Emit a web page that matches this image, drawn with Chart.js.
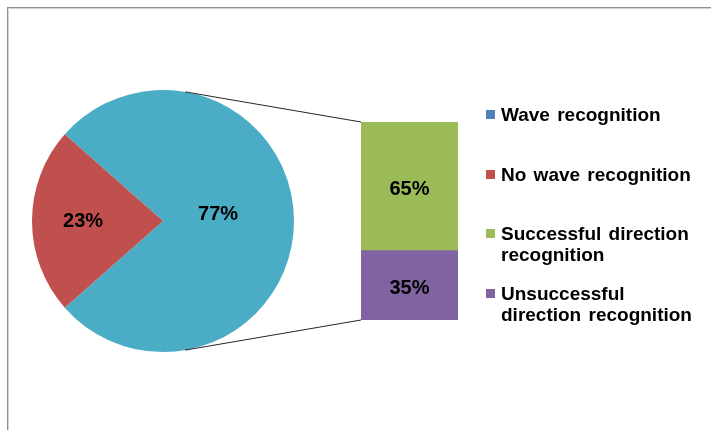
<!DOCTYPE html>
<html>
<head>
<meta charset="utf-8">
<script src="https://cdn.jsdelivr.net/npm/chart.js@4/dist/chart.umd.min.js"></script>
<style>
  html, body { margin: 0; padding: 0; background: #fff; }
  #wrap { position: relative; width: 711px; height: 430px; overflow: hidden; background: #fff; }
  #frame { position: absolute; left: 7px; top: 7px; width: 800px; height: 500px;
           border: 1px solid #8f8f8f; box-shadow: inset 1px 1px 0 #d4d4d4; }
  #pieBox { position: absolute; left: 32px; top: 90px; width: 262px; height: 262px; }
  #barBox { position: absolute; left: 0; top: 0; width: 711px; height: 430px; pointer-events: none; }
  .leg { position: absolute; left: 501px; font: bold 19px "Liberation Sans", Arial, sans-serif;
         line-height: 21px; color: #000; white-space: nowrap; word-spacing: 2px; }
  .leg span { position: absolute; left: -15px; top: 6px; width: 9px; height: 9px; }
</style>
</head>
<body>
<div id="wrap">
  <div id="frame"></div>
  <div id="pieBox"><canvas id="pie"></canvas></div>
  <div id="barBox"><canvas id="bar"></canvas></div>
  <div id="legend"></div>
</div>
<script>
// pie: recognized vs not
const pieLabels = ['Wave recognition', 'No wave recognition'];
const pieValues = [77, 23];
const pieColors = ['#4BACC6', '#C0504D'];

// bar: split of the recognized part
const barLabels = ['Unsuccessful direction recognition', 'Successful direction recognition'];
const barValues = [35, 65];
const barColors = ['#8064A2', '#9BBB59'];

// legend entries (order as in the picture)
const legendLabels = ['Wave recognition', 'No wave recognition',
  'Successful direction<br>recognition', 'Unsuccessful<br>direction recognition'];
const legendColors = ['#4F81BD', '#C0504D', '#9BBB59', '#8064A2'];
const legendTops = [104, 164, 223, 283];

const FONT = 'bold 20px "Liberation Sans", Arial, sans-serif';

const legend = document.getElementById('legend');
legendLabels.forEach((t, i) => {
  const d = document.createElement('div');
  d.className = 'leg';
  d.style.top = legendTops[i] + 'px';
  d.innerHTML = '<span style="background:' + legendColors[i] + '"></span>' + t;
  legend.appendChild(d);
});

// red slice centred on the left side
const rot = 270 - 180 * pieValues[1] / 100 - 360 * pieValues[0] / 100;

const pieLabelPlugin = {
  id: 'pieLabels',
  afterDatasetsDraw(chart) {
    const ctx = chart.ctx;
    const arcs = chart.getDatasetMeta(0).data;
    const factor = [0.42, 0.61];
    const dy = [-7, 0];
    ctx.save();
    ctx.font = FONT;
    ctx.fillStyle = '#000';
    ctx.textAlign = 'center';
    ctx.textBaseline = 'middle';
    arcs.forEach((a, i) => {
      const mid = (a.startAngle + a.endAngle) / 2;
      const r = a.outerRadius * factor[i];
      ctx.fillText(pieValues[i] + '%', a.x + Math.cos(mid) * r, a.y + Math.sin(mid) * r + dy[i]);
    });
    ctx.restore();
  }
};

const pieChart = new Chart(document.getElementById('pie'), {
  type: 'pie',
  data: {
    labels: pieLabels,
    datasets: [{ data: pieValues, backgroundColor: pieColors, borderWidth: 0 }]
  },
  options: {
    responsive: true,
    maintainAspectRatio: false,
    animation: false,
    rotation: rot,
    layout: { padding: 0 },
    plugins: { legend: { display: false }, tooltip: { enabled: false } }
  },
  plugins: [pieLabelPlugin]
});

// tangent lines from the bar corners to the pie, plus bar labels
const barExtras = {
  id: 'barExtras',
  afterDatasetsDraw(chart) {
    const ctx = chart.ctx;
    const arc = pieChart.getDatasetMeta(0).data[0];
    const box = document.getElementById('pieBox');
    const cx = box.offsetLeft + arc.x, cy = box.offsetTop + arc.y, R = arc.outerRadius;
    const top = chart.getDatasetMeta(1).data[0];
    const bot = chart.getDatasetMeta(0).data[0];
    const left = top.x - top.width / 2;
    const corners = [[left, top.y, -1], [left, bot.base, 1]];
    ctx.save();
    ctx.strokeStyle = '#262626';
    ctx.lineWidth = 1;
    corners.forEach(([px, py, s]) => {
      const dx = px - cx, dy = py - cy;
      const d = Math.hypot(dx, dy);
      const ang = Math.atan2(dy, dx) + s * Math.acos(R / d);
      ctx.beginPath();
      ctx.moveTo(cx + R * Math.cos(ang), cy + R * Math.sin(ang));
      ctx.lineTo(px, py);
      ctx.stroke();
    });
    ctx.font = FONT;
    ctx.fillStyle = '#000';
    ctx.textAlign = 'center';
    ctx.textBaseline = 'middle';
    chart.data.datasets.forEach((ds, i) => {
      const el = chart.getDatasetMeta(i).data[0];
      ctx.fillText(ds.data[0] + '%', el.x, (el.y + el.base) / 2 + 3);
    });
    ctx.restore();
  }
};

new Chart(document.getElementById('bar'), {
  type: 'bar',
  data: {
    labels: [''],
    datasets: barValues.map((v, i) => ({
      label: barLabels[i],
      data: [v],
      backgroundColor: barColors[i],
      borderWidth: 0,
      barPercentage: 1,
      categoryPercentage: 1
    }))
  },
  options: {
    responsive: true,
    maintainAspectRatio: false,
    animation: false,
    layout: { padding: { left: 361, right: 253, top: 122, bottom: 110 } },
    scales: {
      x: { stacked: true, display: false },
      y: { stacked: true, display: false, min: 0, max: 100 }
    },
    plugins: { legend: { display: false }, tooltip: { enabled: false } }
  },
  plugins: [barExtras]
});
</script>
</body>
</html>
